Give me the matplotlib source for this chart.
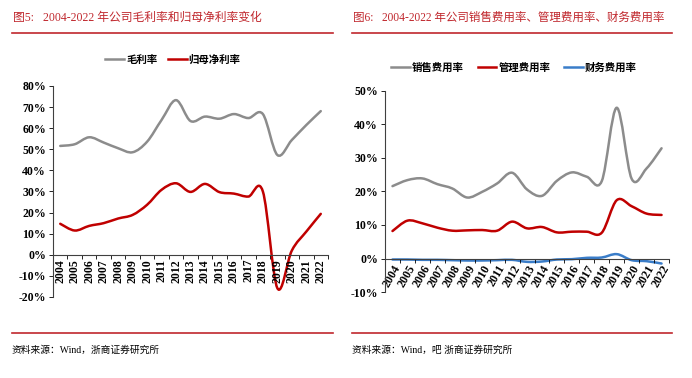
import matplotlib.pyplot as plt
from matplotlib.path import Path
from matplotlib.patches import PathPatch
from matplotlib.lines import Line2D
from matplotlib.ticker import FuncFormatter, MultipleLocator
import numpy as np

years = [str(y) for y in range(2004, 2023)]

gross_margin = [51.6, 52.4, 55.7, 53.2, 50.5, 48.6, 53.6, 63.9, 73.3, 63.4,
                65.5, 64.5, 66.7, 64.8, 66.7, 47.3, 54.4, 61.5, 68.1]
net_margin = [14.7, 11.5, 13.7, 15.0, 17.2, 18.9, 23.7, 30.8, 33.9, 29.8,
              33.6, 29.7, 29.0, 27.6, 30.0, -15.8, 2.0, 11.0, 19.4]

selling_rate = [21.6, 23.4, 23.9, 22.2, 20.9, 18.2, 19.9, 22.4, 25.6, 20.6,
                18.7, 23.2, 25.7, 24.4, 23.1, 45.0, 23.8, 26.9, 32.9]
admin_rate = [8.2, 11.3, 10.5, 9.2, 8.3, 8.4, 8.5, 8.3, 11.0, 9.0,
              9.4, 7.8, 8.0, 8.0, 7.7, 17.4, 15.6, 13.4, 13.0]
finance_rate = [-0.3, -0.3, -0.4, -0.4, -0.5, -0.6, -0.6, -0.5, -0.4, -1.0,
                -0.9, -0.3, -0.2, 0.2, 0.3, 1.3, -0.5, -0.8, -1.5]

GRAY = '#8c8c8c'
RED = '#c00000'
BLUE = '#3a7dc9'
TITLE_RED = '#c0272d'

cjk = ['Liberation Serif', 'Noto Sans CJK SC']
cjk_sans = ['Noto Sans CJK SC', 'DejaVu Sans']


def smooth_line(ax, xs, ys, color, lw=1.8):
    # Excel-style smoothed line: cubic bezier through every data point
    pts = np.column_stack([xs, ys]).astype(float)
    n = len(pts)
    verts = [pts[0]]
    codes = [Path.MOVETO]
    for i in range(n - 1):
        p0 = pts[max(i - 1, 0)]
        p1 = pts[i]
        p2 = pts[i + 1]
        p3 = pts[min(i + 2, n - 1)]
        c1 = p1 + (p2 - p0) / 6.0
        c2 = p2 - (p3 - p1) / 6.0
        verts += [c1, c2, p2]
        codes += [Path.CURVE4] * 3
    patch = PathPatch(Path(verts, codes), fill=False, edgecolor=color,
                      linewidth=lw, capstyle='round', joinstyle='round')
    ax.add_patch(patch)


def style_axes(ax, ymin, ymax, rot):
    ax.set_xlim(-0.5, len(years) - 0.5)
    ax.set_ylim(ymin, ymax)
    ax.yaxis.set_major_locator(MultipleLocator(10))
    ax.yaxis.set_major_formatter(FuncFormatter(lambda v, p: f'{v:.0f}%'))
    ax.spines['top'].set_visible(False)
    ax.spines['right'].set_visible(False)
    ax.spines['bottom'].set_position(('data', 0))
    for s in ('left', 'bottom'):
        ax.spines[s].set_color('#404040')
        ax.spines[s].set_linewidth(0.8)
    ax.set_xticks(range(len(years)))
    ax.set_xticks(np.arange(-0.5, len(years)), minor=True)
    ax.tick_params(axis='x', which='major', length=0, pad=3)
    ax.tick_params(axis='x', which='minor', length=3, direction='out', width=0.6)
    ax.tick_params(axis='y', length=3, width=0.6, pad=2)
    if rot == 90:
        ax.set_xticklabels(years, rotation=90, va='top', ha='center')
    else:
        ax.set_xticklabels(years, rotation=rot, va='top', ha='right',
                           rotation_mode='anchor')
    for lab in ax.get_xticklabels():
        lab.set_fontfamily('Liberation Serif')
        lab.set_fontweight('bold')
        lab.set_fontsize(8.5)
    for lab in ax.get_yticklabels():
        lab.set_fontfamily('Liberation Serif')
        lab.set_fontweight('bold')
        lab.set_fontsize(8.5)


fig = plt.figure(figsize=(6.92, 3.78), dpi=100)
x = np.arange(len(years))

# left panel
ax1 = fig.add_axes([0.0766, 0.2143, 0.3974, 0.5582])
style_axes(ax1, -20, 80, 90)
smooth_line(ax1, x, gross_margin, GRAY)
smooth_line(ax1, x, net_margin, RED)
h1 = [Line2D([], [], color=GRAY, lw=1.8), Line2D([], [], color=RED, lw=1.8)]
ax1.legend(h1, ['毛利率', '归母净利率'], loc='center', ncol=2, frameon=False,
           bbox_to_anchor=(173 / 692, 1 - 60 / 378), bbox_transform=fig.transFigure,
           prop={'family': cjk_sans, 'size': 7.5, 'weight': 'bold'},
           handlelength=1.8, handletextpad=0.2, columnspacing=1.0)

# right panel
ax2 = fig.add_axes([0.5564, 0.2275, 0.4104, 0.5318])
style_axes(ax2, -10, 50, 60)
smooth_line(ax2, x, selling_rate, GRAY)
smooth_line(ax2, x, admin_rate, RED)
smooth_line(ax2, x, finance_rate, BLUE)
h2 = [Line2D([], [], color=c, lw=1.8) for c in (GRAY, RED, BLUE)]
ax2.legend(h2, ['销售费用率', '管理费用率', '财务费用率'], loc='center', ncol=3,
           frameon=False, bbox_to_anchor=(514 / 692, 1 - 68 / 378),
           bbox_transform=fig.transFigure,
           prop={'family': cjk_sans, 'size': 7.5, 'weight': 'bold'},
           handlelength=1.8, handletextpad=0.2, columnspacing=1.3)

# titles, rules and sources
fig.text(13 / 692, 1 - 18 / 378, '图5:   2004-2022 年公司毛利率和归母净利率变化',
         family=cjk, size=8.5, color=TITLE_RED, va='center', ha='left')
fig.text(353 / 692, 1 - 18 / 378, '图6:   2004-2022 年公司销售费用率、管理费用率、财务费用率',
         family=cjk, size=8.3, color=TITLE_RED, va='center', ha='left')
for x0, x1 in ((12, 333), (352, 672)):
    for yy in (33, 333):
        fig.add_artist(Line2D([x0 / 692, x1 / 692], [1 - yy / 378, 1 - yy / 378],
                              color=TITLE_RED, lw=1.2, transform=fig.transFigure))
fig.text(12 / 692, 1 - 350 / 378, '资料来源：Wind，浙商证券研究所',
         family=cjk, size=7, color='black', va='center', ha='left')
fig.text(352 / 692, 1 - 350 / 378, '资料来源：Wind，吧 浙商证券研究所',
         family=cjk, size=7, color='black', va='center', ha='left')

fig.savefig('out.png', dpi=100)
